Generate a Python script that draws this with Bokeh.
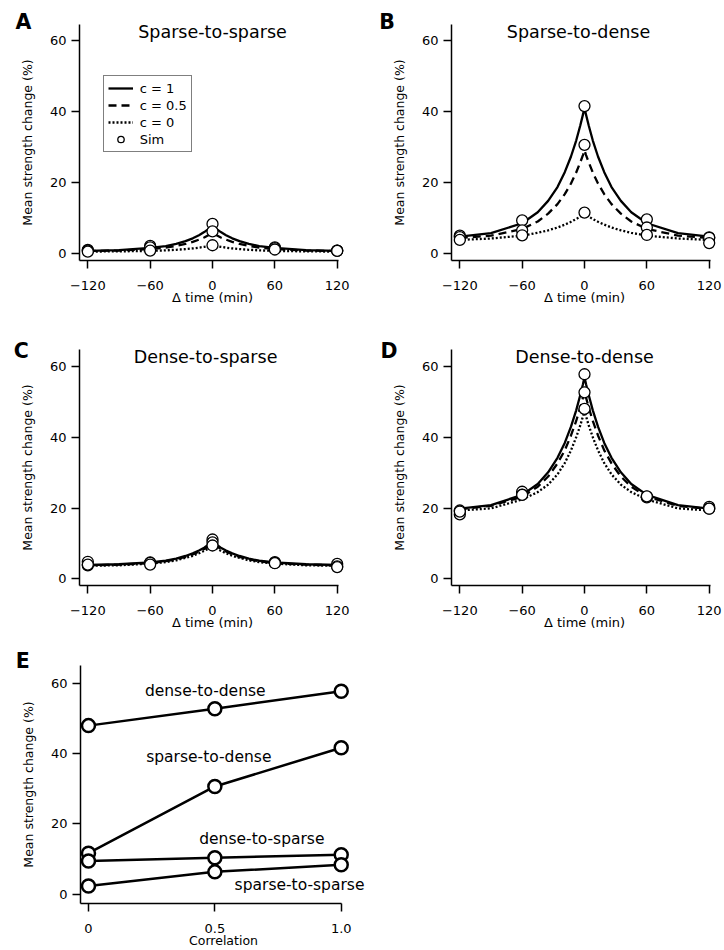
from bokeh.plotting import figure
from bokeh.layouts import row, column
from bokeh.models import Range1d, FixedTicker, Label, Legend, LegendItem
from bokeh.embed import file_html
from bokeh.resources import INLINE

FONT = "DejaVu Sans"

# ---------------- data ----------------
t_curve = [-120, -90, -60, -45, -35, -26, -19, -13, -8, -4, -1.5, 0,
           1.5, 4, 8, 13, 19, 26, 35, 45, 60, 90, 120]
t_sim = [-120, -60, 0, 60, 120]
time_ticks = [-120, -60, 0, 60, 120]
y_ticks = [0, 20, 40, 60]

# Panel A: sparse-to-sparse
a_c1 = [0.7, 0.9, 1.55, 2.04, 2.67, 3.44, 4.25, 5.13, 6.0, 6.84, 7.43, 7.8,
        7.43, 6.84, 6.0, 5.13, 4.25, 3.44, 2.67, 2.04, 1.55, 0.9, 0.7]
a_c05 = [0.67, 0.81, 1.21, 1.64, 2.09, 2.65, 3.24, 3.87, 4.5, 5.11, 5.53, 5.8,
         5.53, 5.11, 4.5, 3.87, 3.24, 2.65, 2.09, 1.64, 1.21, 0.81, 0.67]
a_c0 = [0.52, 0.57, 0.71, 0.86, 1.02, 1.21, 1.41, 1.63, 1.85, 2.06, 2.21, 2.3,
        2.21, 2.06, 1.85, 1.63, 1.41, 1.21, 1.02, 0.86, 0.71, 0.57, 0.52]
a_sim_c1 = [1.0, 2.1, 8.3, 1.7, 0.8]
a_sim_c05 = [0.8, 1.7, 6.2, 1.5, 0.8]
a_sim_c0 = [0.5, 0.8, 2.3, 1.1, 0.7]

# Panel B: sparse-to-dense
b_c1 = [4.7, 5.7, 8.5, 11.6, 14.8, 18.7, 22.9, 27.3, 31.8, 36.1, 39.1, 41.0,
        39.1, 36.1, 31.8, 27.3, 22.9, 18.7, 14.8, 11.6, 8.5, 5.7, 4.7]
b_c05 = [4.35, 5.0, 6.9, 9.0, 11.2, 13.9, 16.7, 19.7, 22.8, 25.7, 27.7, 29.0,
         27.7, 25.7, 22.8, 19.7, 16.7, 13.9, 11.2, 9.0, 6.9, 5.0, 4.35]
b_c0 = [3.8, 4.2, 5.0, 5.8, 6.5, 7.3, 8.1, 8.9, 9.7, 10.4, 10.9, 11.2,
        10.9, 10.4, 9.7, 8.9, 8.1, 7.3, 6.5, 5.8, 5.0, 4.2, 3.8]
b_sim_c1 = [5.0, 9.3, 41.5, 9.6, 4.5]
b_sim_c05 = [4.6, 6.5, 30.6, 7.3, 4.4]
b_sim_c0 = [3.8, 5.1, 11.5, 5.2, 2.9]

# Panel C: dense-to-sparse
c_c1 = [3.9, 4.1, 4.6, 5.1, 5.7, 6.45, 7.2, 8.0, 8.8, 9.6, 10.15, 10.5,
        10.15, 9.6, 8.8, 8.0, 7.2, 6.45, 5.7, 5.1, 4.6, 4.1, 3.9]
c_c05 = [3.8, 4.0, 4.4, 4.96, 5.5, 6.2, 6.9, 7.7, 8.4, 9.2, 9.7, 10.0,
         9.7, 9.2, 8.4, 7.7, 6.9, 6.2, 5.5, 4.96, 4.4, 4.0, 3.8]
c_c0 = [3.7, 3.8, 4.3, 4.7, 5.2, 5.9, 6.5, 7.2, 7.9, 8.5, 9.0, 9.3,
        9.0, 8.5, 7.9, 7.2, 6.5, 5.9, 5.2, 4.7, 4.3, 3.8, 3.7]
c_sim_c1 = [3.8, 4.6, 11.1, 4.7, 4.2]
c_sim_c05 = [4.8, 4.5, 10.3, 4.5, 3.5]
c_sim_c0 = [4.0, 4.0, 9.4, 4.4, 3.3]

# Panel D: dense-to-dense
d_c1 = [19.8, 20.8, 23.7, 26.8, 30.1, 34.2, 38.4, 43.0, 47.6, 52.0, 55.0, 57.0,
        55.0, 52.0, 47.6, 43.0, 38.4, 34.2, 30.1, 26.8, 23.7, 20.8, 19.8]
d_c05 = [19.7, 20.6, 23.2, 26.0, 28.9, 32.6, 36.3, 40.5, 44.6, 48.5, 51.2, 53.0,
         51.2, 48.5, 44.6, 40.5, 36.3, 32.6, 28.9, 26.0, 23.2, 20.6, 19.7]
d_c0 = [19.3, 19.9, 22.4, 24.5, 26.6, 29.5, 32.7, 36.3, 40.0, 43.4, 45.9, 47.5,
        45.9, 43.4, 40.0, 36.3, 32.7, 29.5, 26.6, 24.5, 22.4, 19.9, 19.3]
d_sim_c1 = [19.3, 24.6, 57.8, 23.2, 20.3]
d_sim_c05 = [18.2, 23.8, 52.7, 23.0, 19.8]
d_sim_c0 = [19.0, 23.7, 48.0, 23.3, 19.8]

# Panel E: peak change vs correlation
corr = [0, 0.5, 1.0]
corr_ticks = [0, 0.5, 1.0]
corr_tick_labels = {0: "0", 0.5: "0.5", 1: "1.0"}
e_dense_dense = [47.9, 52.7, 57.7]
e_sparse_dense = [11.6, 30.6, 41.6]
e_dense_sparse = [9.4, 10.3, 11.2]
e_sparse_sparse = [2.3, 6.3, 8.3]
e_names = ["dense-to-dense", "sparse-to-dense", "dense-to-sparse", "sparse-to-sparse"]

legend_labels = ["c = 1", "c = 0.5", "c = 0", "Sim"]

# ---------------- helpers ----------------
def make_fig(xr, yr, bl, br, bt, bb, fw, fh):
    p = figure(x_range=Range1d(*xr), y_range=Range1d(*yr),
               frame_width=fw, frame_height=fh,
               min_border_left=bl, min_border_right=br,
               min_border_top=bt, min_border_bottom=bb,
               output_backend="svg", toolbar_location=None, tools="")
    p.outline_line_color = None
    p.grid.visible = False
    p.background_fill_color = "white"
    p.border_fill_color = "white"
    return p


def style_axes(p, xlabel, xticks, xbounds, ylabel):
    for ax in (p.xaxis[0], p.yaxis[0]):
        ax.axis_line_width = 1.5
        ax.axis_line_color = "black"
        ax.major_tick_line_width = 1.5
        ax.major_tick_line_color = "black"
        ax.major_tick_out = 8
        ax.major_tick_in = 0
        ax.minor_tick_line_color = None
        ax.major_label_text_font = FONT
        ax.major_label_text_font_size = "13px"
        ax.major_label_text_color = "black"
        ax.axis_label_text_font = FONT
        ax.axis_label_text_font_style = "normal"
        ax.axis_label_text_color = "black"
    p.xaxis[0].ticker = FixedTicker(ticks=xticks)
    p.xaxis[0].bounds = xbounds
    p.xaxis[0].axis_label = xlabel
    p.xaxis[0].axis_label_text_font_size = "13px"
    p.xaxis[0].major_label_standoff = 12
    p.xaxis[0].axis_label_standoff = -3
    p.yaxis[0].ticker = FixedTicker(ticks=y_ticks)
    p.yaxis[0].axis_label = ylabel
    p.yaxis[0].axis_label_text_font_size = "12.5px"
    p.yaxis[0].major_label_standoff = 5
    p.yaxis[0].axis_label_standoff = 12


def add_letter(p, x, y, letter):
    # placed in the top side panel so that it is not clipped to the frame
    p.add_layout(Label(x=x, y=y, text=letter, text_font=FONT, text_font_style="bold",
                       text_font_size="20.5px", text_color="black",
                       text_align="left", text_baseline="alphabetic"), "above")


def add_title(p, x, y, txt):
    p.add_layout(Label(x=x, y=y, text=txt, text_font=FONT, text_font_size="17.5px",
                       text_color="black", text_align="center", text_baseline="alphabetic"))


def time_panel(bl, br, bt, bb, fh, yr, letter, letter_x, letter_y, title, title_x, title_y,
               c1, c05, c0, s1, s05, s0):
    p = make_fig((-128, 128), yr, bl, br, bt, bb, 266, fh)
    style_axes(p, "\u0394 time (min)", time_ticks, (-128, 121.3), "Mean strength change (%)")
    r1 = p.line(t_curve, c1, line_color="black", line_width=2.3, line_join="round")
    r2 = p.line(t_curve, c05, line_color="black", line_width=2.3, line_dash="8 5")
    r3 = p.line(t_curve, c0, line_color="black", line_width=2.3, line_dash="2 2")
    rs = None
    for s in (s1, s05, s0):
        rs = p.scatter(t_sim, s, marker="circle", size=11, fill_color="white",
                       line_color="black", line_width=1.3)
    add_letter(p, letter_x, letter_y, letter)
    add_title(p, title_x, title_y, title)
    return p, (r1, r2, r3, rs)


YR1 = (-2.0, 64.5)
YR2 = (-1.9, 64.8)
pA, rendA = time_panel(79, 30, 24, 65, 236, YR1, "A", -189.6, 65.2, "Sparse-to-sparse", 0, 62.5,
                       a_c1, a_c05, a_c0, a_sim_c1, a_sim_c05, a_sim_c0)
pB, _ = time_panel(76, 6, 24, 65, 236, YR1, "B", -197.6, 65.2, "Sparse-to-dense", -5.8, 62.5,
                   b_c1, b_c05, b_c0, b_sim_c1, b_sim_c05, b_sim_c0)
pC, _ = time_panel(79, 30, 24, 56, 236, YR2, "C", -191.2, 64.4, "Dense-to-sparse", -6.7, 62.8,
                   c_c1, c_c05, c_c0, c_sim_c1, c_sim_c05, c_sim_c0)
pD, _ = time_panel(76, 6, 24, 56, 236, YR2, "D", -196.3, 64.4, "Dense-to-dense", 0, 62.8,
                   d_c1, d_c05, d_c0, d_sim_c1, d_sim_c05, d_sim_c0)

legend = Legend(items=[LegendItem(label=lab, renderers=[r]) for lab, r in zip(legend_labels, rendA)],
                location=(23.7, 108), orientation="vertical",
                border_line_color="black", border_line_width=1, background_fill_color="white",
                background_fill_alpha=1.0, padding=4, spacing=1, margin=0,
                glyph_width=25, glyph_height=16, label_height=16, label_standoff=7,
                label_text_font=FONT, label_text_font_size="13px", label_text_color="black")
pA.add_layout(legend, "center")

# Panel E
pE = make_fig((-0.0316, 1.1), (-2.7, 65.0), 80, 20, 24, 44, 286, 238)
style_axes(pE, "Correlation", corr_ticks, (-0.0316, 1.0), "Mean strength change (%)")
pE.xaxis[0].major_label_overrides = corr_tick_labels
pE.xaxis[0].axis_label_text_font_size = "12.5px"
e_series = [e_dense_dense, e_sparse_dense, e_dense_sparse, e_sparse_sparse]
for ys in e_series:
    pE.line(corr, ys, line_color="black", line_width=2.5, line_join="round")
for ys in e_series:
    pE.scatter(corr, ys, marker="circle", size=13, fill_color="white",
               line_color="black", line_width=2.5)
e_label_pos = [(0.462, 57.7), (0.476, 39.0), (0.686, 15.7), (0.835, 2.6)]
for name, (lx, ly) in zip(e_names, e_label_pos):
    pE.add_layout(Label(x=lx, y=ly, text=name, text_font=FONT, text_font_size="15.5px",
                        text_color="black", text_align="center", text_baseline="alphabetic"))
add_letter(pE, -0.288, 66.4, "E")

layout = column(row(pA, pB), row(pC, pD), pE)

open("out.html", "w").write(file_html(layout, INLINE))
